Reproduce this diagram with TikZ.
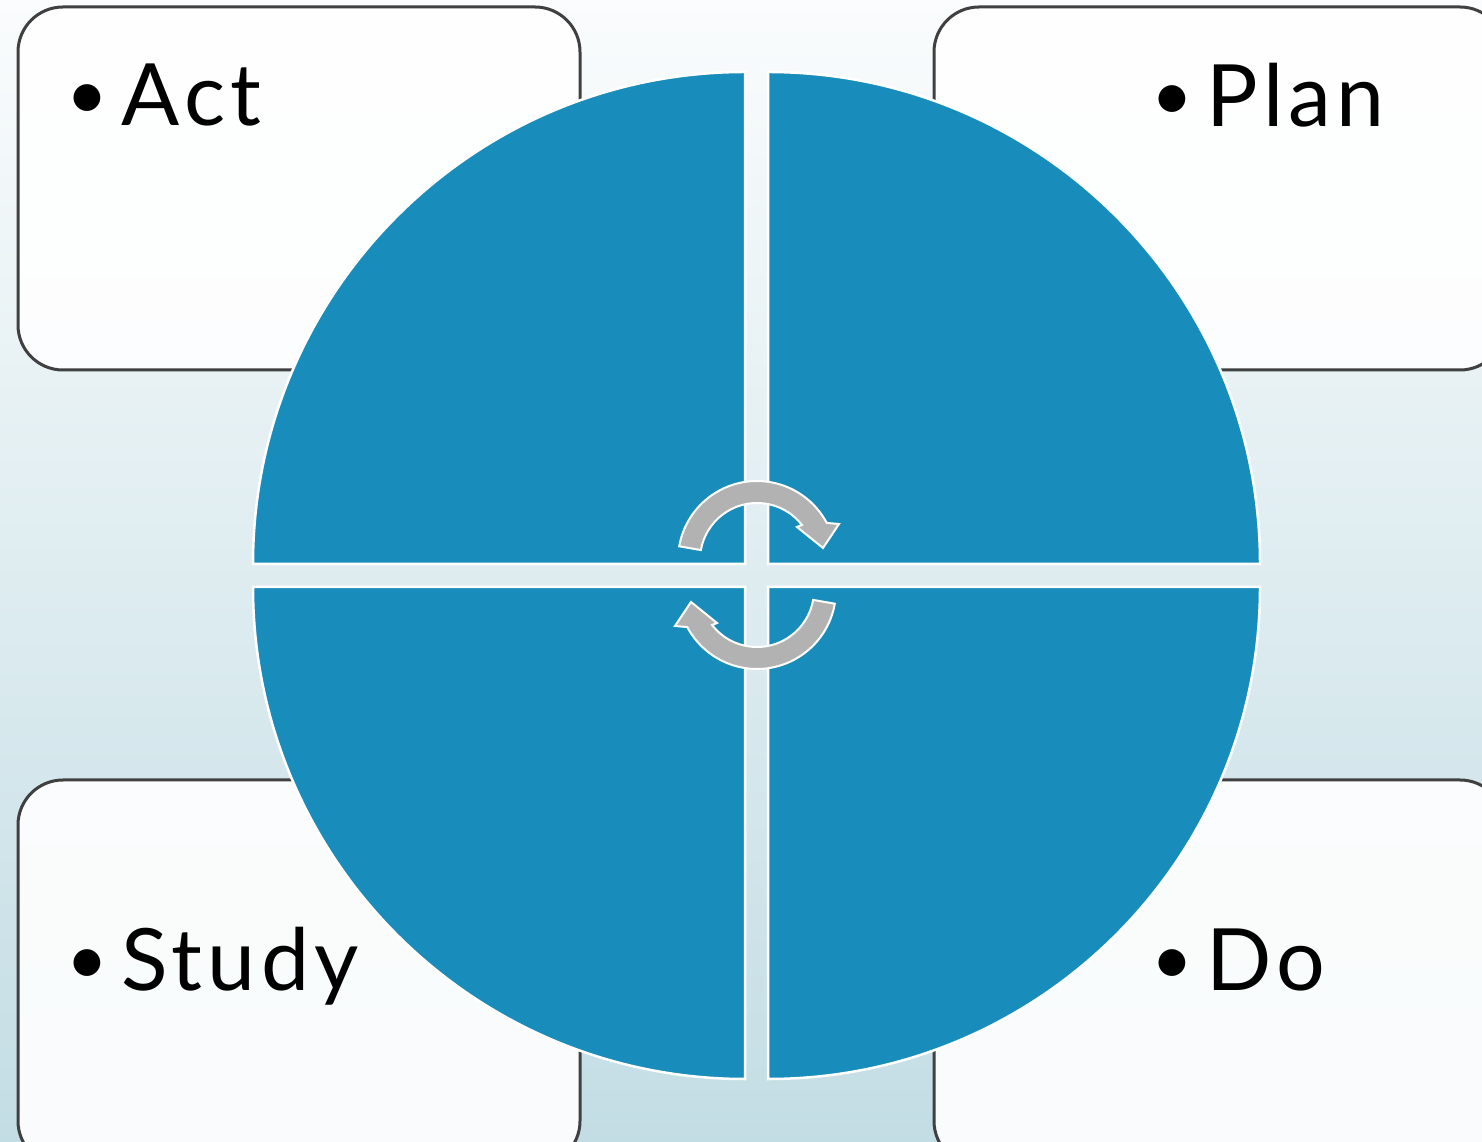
\documentclass[tikz,border=0pt]{standalone}
\usepackage{fontspec}
\setmainfont{Lato}
\definecolor{bgtop}{HTML}{FAFCFD}
\definecolor{bgbot}{HTML}{C3DDE4}
\definecolor{quad}{HTML}{188DBB}
\definecolor{boxline}{HTML}{404040}
\definecolor{arrowgray}{HTML}{B2B2B2}
\newcommand{\bulletmark}{\raisebox{6pt}{\fontsize{72}{76}\selectfont •}\hspace{14pt}}
\tikzset{
  cardbox/.style={draw=boxline, line width=3pt, rounded corners=45pt, fill=white, fill opacity=0.9, draw opacity=1},
  quadrant/.style={fill=quad, draw=white, line width=2.5pt},
  cyclearrow/.style={fill=arrowgray, draw=white, line width=2pt, line join=miter},
  label/.style={anchor=base west, inner sep=0pt, font=\fontsize{86}{100}\selectfont\addfontfeature{LetterSpace=6}, text=black}
}
\begin{document}
\begin{tikzpicture}[x=1pt,y=1pt]
\useasboundingbox (0,0) rectangle (1482,1141);
\clip (0,0) rectangle (1482,1141);
\shade[top color=bgtop, bottom color=bgbot] (0,0) rectangle (1482,1141);
% cards
\draw[cardbox] (18,771) rectangle (580,1134);
\draw[cardbox] (934,771) rectangle (1505,1134);
\draw[cardbox] (18,-25) rectangle (580,361);
\draw[cardbox] (934,-25) rectangle (1505,361);
% quadrants
\draw[quadrant] (745,577) -- ++(0,492) arc[start angle=90,end angle=180,radius=492] -- cycle;
\draw[quadrant] (768,577) -- ++(492,0) arc[start angle=0,end angle=90,radius=492] -- cycle;
\draw[quadrant] (745,554) -- ++(-492,0) arc[start angle=180,end angle=270,radius=492] -- cycle;
\draw[quadrant] (768,554) -- ++(0,-492) arc[start angle=270,end angle=360,radius=492] -- cycle;
% arrows
\begin{scope}[shift={(757,581)}]
\draw[cyclearrow] (170:79) arc[start angle=170,end angle=28,radius=79]
   -- (82,36) -- (66,12) -- (40,33) -- (38:57)
   arc[start angle=38,end angle=170,radius=57] -- cycle;
\end{scope}
\begin{scope}[shift={(757,551)}, rotate=180]
\draw[cyclearrow] (170:79) arc[start angle=170,end angle=28,radius=79]
   -- (82,36) -- (66,12) -- (40,33) -- (38:57)
   arc[start angle=38,end angle=170,radius=57] -- cycle;
\end{scope}
% labels
\node[label] (act) at (66,1015) {\bulletmark Act};
\node[label] (plan) at (1151,1014) {\bulletmark Plan};
\node[label] (study) at (66,151) {\bulletmark Study};
\node[label] (do) at (1151,151) {\bulletmark Do};
\end{tikzpicture}
\end{document}
